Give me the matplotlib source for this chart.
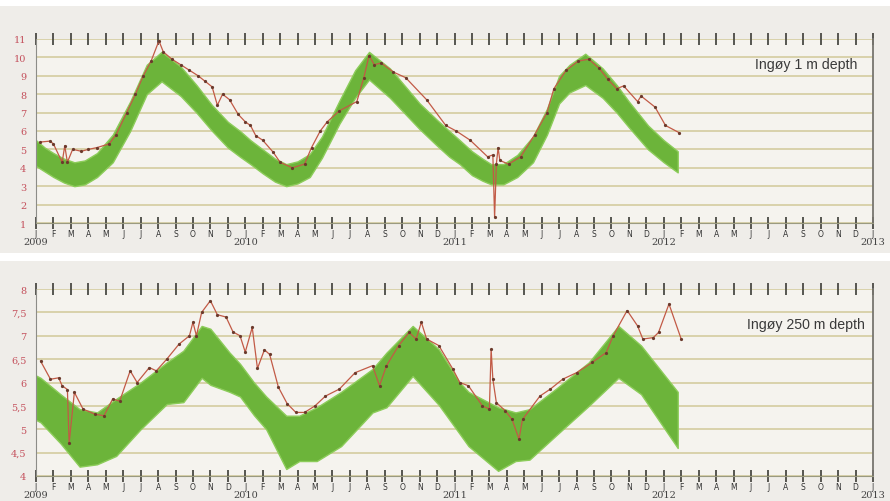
import matplotlib
matplotlib.use("Agg")
import matplotlib.pyplot as plt
from matplotlib.patches import Rectangle

# ---------------- data (x in months since Jan 2009) ----------------
top_band_m = [0.0, 0.5, 1.0, 1.6, 2.2, 2.8, 3.5, 4.4, 5.4, 6.35, 7.2, 8.3, 9.2, 10.1, 11.0, 11.7,
              12.3, 13.0, 13.7, 14.35, 15.0, 15.7, 16.4, 17.4, 18.3, 19.1, 20.3, 21.2, 22.0, 23.0, 23.7,
              24.3, 25.0, 25.6, 26.1, 26.8, 27.6, 28.5, 29.3, 30.0, 30.6, 31.5, 32.5, 33.3, 34.0, 35.1, 36.0, 36.8]
top_band_hi = [5.5, 5.1, 4.8, 4.5, 4.3, 4.4, 4.8, 5.8, 7.6, 9.6, 10.3, 9.5, 8.5, 7.4, 6.5, 6.0,
               5.5, 5.0, 4.5, 4.2, 4.35, 4.75, 5.7, 7.65, 9.3, 10.3, 9.4, 8.4, 7.5, 6.6, 6.0,
               5.5, 4.9, 4.5, 4.2, 4.2, 4.7, 5.7, 7.2, 9.0, 9.6, 10.2, 9.4, 8.5, 7.6, 6.3, 5.5, 4.9]
top_band_lo = [4.1, 3.8, 3.5, 3.2, 3.0, 3.1, 3.5, 4.3, 6.0, 8.0, 8.7, 7.9, 7.0, 6.0, 5.1, 4.6,
               4.2, 3.7, 3.25, 3.0, 3.15, 3.5, 4.55, 6.4, 7.8, 8.8, 7.8, 6.9, 6.1, 5.2, 4.6,
               4.2, 3.6, 3.3, 3.1, 3.1, 3.5, 4.3, 5.8, 7.5, 8.1, 8.5, 7.8, 7.0, 6.2, 5.0, 4.3, 3.75]

top_obs_m = [0.25, 0.8, 1.0, 1.5, 1.65, 1.8, 2.1, 2.6, 3.0, 3.5, 4.2, 4.6, 5.2, 5.7, 6.15, 6.6, 7.05,
             7.3, 7.8, 8.3, 8.8, 9.3, 9.7, 10.1, 10.4, 10.7, 11.1, 11.6, 12.0, 12.3, 12.6, 13.0, 13.6,
             14.0, 14.7, 15.4, 15.8, 16.3, 16.7, 17.4, 18.4, 18.8, 19.1, 19.4, 19.8, 20.5, 21.2, 22.4,
             23.5, 24.1, 24.9, 25.9, 26.2, 26.3, 26.4, 26.5, 26.6, 27.1, 27.8, 28.6, 29.3, 29.7, 30.4,
             31.1, 31.7, 32.3, 32.8, 33.3, 33.7, 34.5, 34.7, 35.5, 36.1, 36.9]
top_obs_v = [5.4, 5.45, 5.3, 4.3, 5.2, 4.3, 5.0, 4.9, 5.0, 5.1, 5.3, 5.8, 7.0, 8.0, 9.0, 9.8, 10.9,
             10.3, 9.9, 9.6, 9.3, 9.0, 8.7, 8.4, 7.4, 8.0, 7.7, 6.9, 6.5, 6.3, 5.75, 5.5, 4.85,
             4.3, 4.0, 4.2, 5.1, 6.0, 6.5, 7.1, 7.6, 8.9, 10.1, 9.6, 9.7, 9.2, 8.9, 7.7,
             6.3, 6.0, 5.5, 4.6, 4.7, 1.3, 4.2, 5.1, 4.4, 4.2, 4.6, 5.8, 7.0, 8.3, 9.3,
             9.8, 9.9, 9.4, 8.8, 8.3, 8.45, 7.6, 7.9, 7.3, 6.3, 5.9]

bot_band_m = [0.0, 0.26, 1.4, 2.5, 3.5, 4.6, 6.0, 7.5, 8.45, 9.5, 10.0, 11.1, 11.7, 12.5, 13.2,
              14.35, 15.1, 16.1, 17.5, 19.3, 20.1, 21.6, 23.1, 24.3, 24.8, 26.5, 27.5, 28.3, 29.8,
              31.7, 33.4, 34.7, 36.8]
bot_band_hi = [6.15, 6.1, 5.75, 5.43, 5.36, 5.65, 6.0, 6.43, 6.68, 7.21, 7.15, 6.64, 6.4, 6.0, 5.7,
               5.29, 5.29, 5.47, 5.8, 6.29, 6.64, 7.21, 6.71, 6.0, 5.8, 5.47, 5.36, 5.43, 5.86,
               6.43, 7.21, 6.79, 5.8]
bot_band_lo = [5.2, 5.15, 4.7, 4.2, 4.25, 4.43, 5.0, 5.54, 5.58, 6.1, 5.95, 5.8, 5.7, 5.3, 5.0,
               4.15, 4.32, 4.32, 4.64, 5.36, 5.47, 6.14, 5.52, 4.9, 4.64, 4.11, 4.32, 4.35, 4.86,
               5.5, 6.1, 5.75, 4.6]

bot_obs_m = [0.26, 0.83, 1.3, 1.5, 1.8, 1.9, 2.2, 2.7, 3.4, 3.9, 4.4, 4.8, 5.4, 5.8, 6.5, 6.9, 7.5,
             8.2, 8.8, 9.0, 9.2, 9.5, 10.0, 10.4, 10.9, 11.3, 11.7, 12.0, 12.4, 12.7, 13.1, 13.4,
             13.9, 14.4, 14.9, 15.4, 16.0, 16.6, 17.4, 18.3, 19.3, 19.7, 20.1, 20.8, 21.4, 21.8,
             22.1, 22.4, 23.1, 23.9, 24.3, 24.8, 25.6, 26.0, 26.1, 26.2, 26.4, 26.9, 27.3, 27.7,
             27.9, 28.9, 29.5, 30.2, 31.0, 31.9, 32.7, 33.1, 33.9, 34.5, 34.8, 35.4, 35.7, 36.3, 37.0]
bot_obs_v = [6.46, 6.07, 6.1, 5.93, 5.85, 4.7, 5.79, 5.43, 5.32, 5.29, 5.65, 5.6, 6.25, 6.0, 6.32,
             6.25, 6.5, 6.82, 7.0, 7.29, 7.0, 7.5, 7.75, 7.45, 7.4, 7.08, 7.0, 6.65, 7.18, 6.3,
             6.7, 6.6, 5.9, 5.55, 5.36, 5.36, 5.5, 5.71, 5.86, 6.21, 6.36, 5.93, 6.36, 6.79, 7.07,
             6.93, 7.29, 6.93, 6.79, 6.29, 6.0, 5.93, 5.5, 5.43, 6.71, 6.07, 5.57, 5.4, 5.21, 4.79,
             5.21, 5.71, 5.86, 6.07, 6.21, 6.43, 6.64, 7.0, 7.54, 7.21, 6.93, 6.96, 7.07, 7.68, 6.93]

month_letters = ["J", "F", "M", "A", "M", "J", "J", "A", "S", "O", "N", "D"]
years = ["2009", "2010", "2011", "2012", "2013"]
top_yticks = [1, 2, 3, 4, 5, 6, 7, 8, 9, 10, 11]
bot_yticks = [4, 4.5, 5, 5.5, 6, 6.5, 7, 7.5, 8]
bot_ylabels = ["4", "4,5", "5", "5,5", "6", "6,5", "7", "7,5", "8"]
titles = ["Ingøy 1 m depth", "Ingøy 250 m depth"]

# ---------------- styling ----------------
W, H = 890, 502
fig = plt.figure(figsize=(W / 100, H / 100), dpi=100)
fig.patch.set_facecolor("#efede9")
# white strips (top edge and between the two panels)
fig.patches.append(Rectangle((0, 1 - 262 / H), 1, 8 / H, transform=fig.transFigure,
                             facecolor="white", edgecolor="none", zorder=0))
fig.patches.append(Rectangle((0, 1 - 7 / H), 1, 7 / H, transform=fig.transFigure,
                             facecolor="white", edgecolor="none", zorder=0))

GREEN = "#6cb43a"
RED = "#c25a46"
DOT = "#6b3a2c"
GRID = "#d9d2ab"
YLAB = "#c4505c"

def make_axes(top_px, bot_px):
    left, right = 36 / W, 873 / W
    return fig.add_axes([left, 1 - bot_px / H, right - left, (bot_px - top_px) / H])

panels = [
    dict(ax=make_axes(40, 224), bm=top_band_m, bh=top_band_hi, bl=top_band_lo,
         om=top_obs_m, ov=top_obs_v, yt=top_yticks, yl=[str(v) for v in top_yticks],
         ylim=(1, 11), title=titles[0], tx=0.981, ty=0.864),
    dict(ax=make_axes(290, 477), bm=bot_band_m, bh=bot_band_hi, bl=bot_band_lo,
         om=bot_obs_m, ov=bot_obs_v, yt=bot_yticks, yl=bot_ylabels,
         ylim=(4, 8), title=titles[1], tx=0.990, ty=0.813),
]

for p in panels:
    ax = p["ax"]
    ax.set_facecolor("#f5f3ee")
    ax.set_xlim(0, 48)
    ax.set_ylim(*p["ylim"])
    for v in p["yt"]:
        ax.axhline(v, color=GRID, lw=1.4, zorder=1)
    ax.fill_between(p["bm"], p["bl"], p["bh"], color=GREEN, lw=1.0, edgecolor="#8ccc5a", zorder=2)
    ax.plot(p["om"], p["ov"], color=RED, lw=0.9, zorder=3,
            marker="o", ms=1.3, mfc=DOT, mec=DOT)
    ax.spines["top"].set_visible(False)
    ax.spines["left"].set_color("#8c8c88")
    ax.spines["right"].set_color("#77756f")
    ax.spines["right"].set_linewidth(1.3)
    ax.spines["bottom"].set_color("#9a9a80")
    # y ticks
    ax.set_yticks(p["yt"])
    ax.set_yticklabels(p["yl"], family="DejaVu Serif", fontsize=7, color=YLAB)
    ax.tick_params(axis="y", length=0, pad=7)
    # x ticks: month letters
    mt = list(range(0, 49))
    ax.set_xticks(mt)
    ax.set_xticklabels([month_letters[i % 12] for i in mt], fontsize=5.5, color="#333333")
    ax.tick_params(axis="x", which="both", direction="inout", length=8, width=1.3,
                   color="#4a4a44", pad=0, top=True, labeltop=False)
    # year labels
    for i, y in enumerate(years):
        ax.annotate(y, xy=(i * 12, 0), xycoords=("data", "axes fraction"),
                    xytext=(0, -10), textcoords="offset points", ha="center", va="top",
                    family="DejaVu Serif", fontsize=7, color="#444444")
    ax.text(p["tx"], p["ty"], p["title"], transform=ax.transAxes, ha="right", va="center",
            family="Liberation Sans", fontsize=10.2, color="#3a3a3a")

fig.savefig("out.png", dpi=100, facecolor=fig.get_facecolor())
